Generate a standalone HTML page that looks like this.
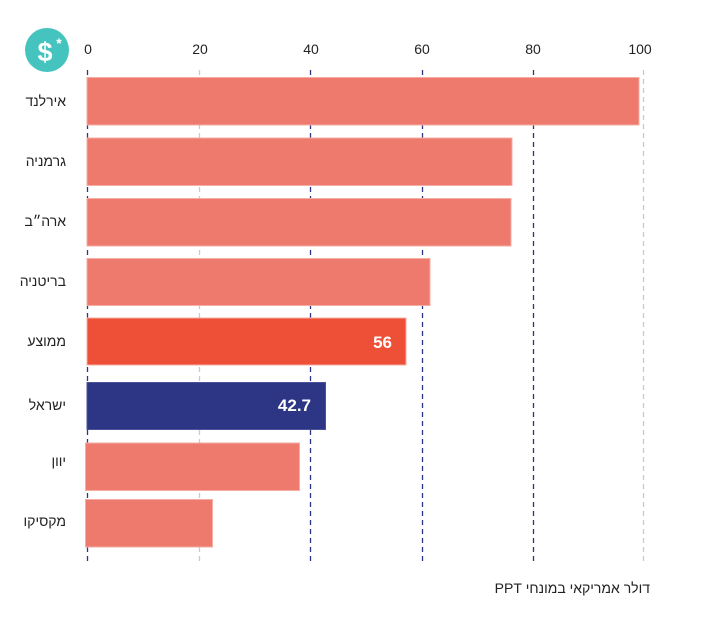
<!DOCTYPE html>
<html><head><meta charset="utf-8"><style>
html,body{margin:0;padding:0;background:#fff;}
body{position:relative;width:724px;height:625px;overflow:hidden;}
svg{display:block;position:absolute;left:0;top:0;}
text{font-family:"Liberation Sans","DejaVu Sans",sans-serif;}
.lbl{position:absolute;right:658px;direction:rtl;text-align:right;white-space:nowrap;font-family:"Liberation Sans","DejaVu Sans",sans-serif;font-size:14px;line-height:16px;color:#222;}
.ttl{position:absolute;right:74px;top:580px;direction:rtl;text-align:right;white-space:nowrap;font-family:"Liberation Sans","DejaVu Sans",sans-serif;font-size:14px;line-height:16px;color:#222;}
</style></head><body>
<svg width="724" height="625" viewBox="0 0 724 625" xmlns="http://www.w3.org/2000/svg">
<rect width="724" height="625" fill="#fff"/>
<circle cx="47" cy="50" r="22" fill="#45C3BF"/>
<text x="45" y="61" font-size="27" font-weight="bold" fill="#fff" text-anchor="middle">$</text>
<text x="59" y="48" font-size="14" font-weight="bold" fill="#fff" text-anchor="middle">*</text>
<g font-size="14" fill="#222" text-anchor="middle">
<text x="88" y="54">0</text>
<text x="200" y="54">20</text>
<text x="311" y="54">40</text>
<text x="422" y="54">60</text>
<text x="533" y="54">80</text>
<text x="640" y="54">100</text>
</g>
<g stroke-width="1.3">
<line x1="87.5" y1="70" x2="87.5" y2="562" stroke="#2D3585" stroke-dasharray="5,4"/>
<line x1="199.5" y1="70" x2="199.5" y2="562" stroke="#C5C9DC" stroke-dasharray="5,4"/>
<line x1="310.5" y1="70" x2="310.5" y2="562" stroke="#2D3585" stroke-dasharray="5,4"/>
<line x1="422.5" y1="70" x2="422.5" y2="562" stroke="#2D3585" stroke-dasharray="5,4"/>
<line x1="533.5" y1="70" x2="533.5" y2="562" stroke="#2D3585" stroke-dasharray="5,4"/>
<line x1="643.5" y1="70" x2="643.5" y2="562" stroke="#C5C9DC" stroke-dasharray="5,4"/>
</g>
<g stroke="#F5ADA4" stroke-width="1">
<rect x="87" y="77.5" width="552" height="47.5" fill="#ED7A6C"/>
<rect x="87" y="138" width="425" height="47.5" fill="#ED7A6C"/>
<rect x="87" y="198.5" width="424" height="47.5" fill="#ED7A6C"/>
<rect x="87" y="258.5" width="343" height="47" fill="#ED7A6C"/>
<rect x="87" y="318" width="319" height="47" fill="#EE4F37"/>
<rect x="87" y="382.5" width="238.5" height="47" fill="#2D3585" stroke="#4A529A"/>
<rect x="85.5" y="443" width="214" height="47.5" fill="#ED7A6C"/>
<rect x="85.5" y="499.5" width="127" height="47.5" fill="#ED7A6C"/>
</g>
<g font-size="17" font-weight="bold" fill="#fff" text-anchor="end">
<text x="392" y="348">56</text>
<text x="311" y="411">42.7</text>
</g>
</svg>
<div class="lbl" style="top:93px">אירלנד</div>
<div class="lbl" style="top:153px">גרמניה</div>
<div class="lbl" style="top:213px">ארה״ב</div>
<div class="lbl" style="top:273px">בריטניה</div>
<div class="lbl" style="top:333px">ממוצע</div>
<div class="lbl" style="top:397px">ישראל</div>
<div class="lbl" style="top:453px">יוון</div>
<div class="lbl" style="top:513px">מקסיקו</div>
<div class="ttl">דולר אמריקאי במונחי PPT</div>
</body></html>
